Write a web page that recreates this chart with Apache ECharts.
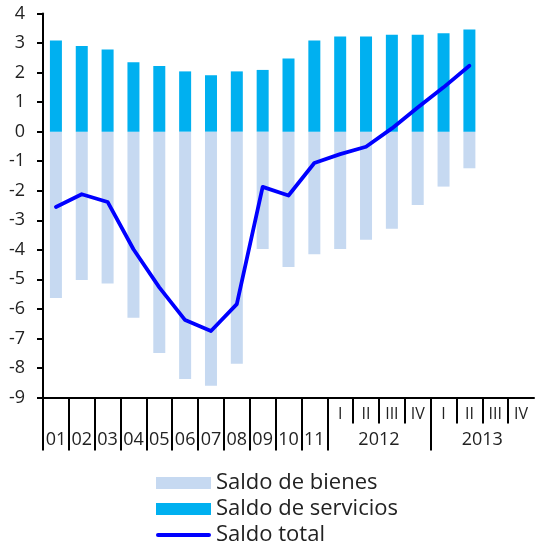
<!DOCTYPE html>
<html>
<head>
<meta charset="utf-8">
<script src="https://cdn.jsdelivr.net/npm/echarts@6/dist/echarts.min.js"></script>
<style>
html,body{margin:0;padding:0;background:#fff;}
#chart{width:535px;height:545px;}
</style>
</head>
<body>
<div id="chart"></div>
<script>
// Categories: years 2001-2011, then quarters 2012 I-IV, 2013 I-IV
var categories = ['01','02','03','04','05','06','07','08','09','10','11',
  '2012-I','2012-II','2012-III','2012-IV','2013-I','2013-II','2013-III','2013-IV'];
var yearLabels = ['01','02','03','04','05','06','07','08','09','10','11'];
var quarterLabels = ['I','II','III','IV','I','II','III','IV'];
var groupLabels = ['2012','2013'];

var bienes = [-5.63,-5.02,-5.14,-6.30,-7.49,-8.37,-8.60,-7.86,-3.97,-4.58,-4.15,
  -3.97,-3.66,-3.29,-2.48,-1.86,-1.24];
var servicios = [3.09,2.90,2.78,2.35,2.22,2.04,1.91,2.04,2.09,2.48,3.09,
  3.22,3.22,3.28,3.28,3.33,3.46];
var total = [-2.55,-2.12,-2.38,-3.98,-5.27,-6.38,-6.75,-5.84,-1.87,-2.16,-1.06,
  -0.76,-0.51,0.11,0.82,1.50,2.23];

var yTicksMin = -9, yTicksMax = 4, yStep = 1;

var FONT = 'Open Sans';
var nCat = categories.length;
var nYears = yearLabels.length;

// positions derived from category counts
var yearLabelPos = yearLabels.map(function(_, i){ return i + 0.5; });
var groupLabelPos = groupLabels.map(function(_, g){ return nYears + g * 4 + 2; });
var longTickPos = [];
for (var i = 0; i <= nYears; i++) longTickPos.push(i);
longTickPos.push(nYears + 4);
var shortTickPos = [];
for (var j = 0; j < quarterLabels.length; j++) {
  var p = nYears + j;
  if (j % 4 !== 0) shortTickPos.push(p);
}
var quarterLabelPos = quarterLabels.map(function(_, k){ return nYears + k + 0.5; });

var chart = echarts.init(document.getElementById('chart'), null, {renderer: 'canvas'});

chart.setOption({
  animation: false,
  backgroundColor: '#ffffff',
  textStyle: {fontFamily: FONT},
  grid: {left: 43, right: 1, top: 13.5, bottom: 147.5, containLabel: false},
  legend: {
    orient: 'vertical',
    left: 156,
    top: 472,
    height: 90,
    width: 370,
    padding: 0,
    itemWidth: 55,
    itemHeight: 12,
    itemGap: 4,
    symbolKeepAspect: true,
    textStyle: {fontFamily: FONT, fontSize: 22, color: '#222', lineHeight: 22},
    data: [
      {name: 'Saldo de bienes', icon: 'rect'},
      {name: 'Saldo de servicios', icon: 'rect'},
      {name: 'Saldo total', icon: 'path://M2,0L53,0A2,2,0,0,1,53,4L2,4A2,2,0,0,1,2,0Z'}
    ]
  },
  xAxis: [
    {
      type: 'category',
      data: categories,
      show: false,
      boundaryGap: true
    },
    {
      type: 'value',
      min: 0, max: nCat,
      position: 'bottom',
      splitLine: {show: false},
      axisLine: {show: true, onZero: false, lineStyle: {color: '#000', width: 2}},
      axisTick: {show: true, customValues: longTickPos, length: 53, lineStyle: {color: '#000', width: 2}},
      axisLabel: {
        show: true,
        customValues: yearLabelPos.concat(groupLabelPos),
        margin: 33,
        fontFamily: FONT, fontSize: 18, color: '#222',
        formatter: function(v){
          if (v < nYears) return yearLabels[Math.floor(v)];
          for (var g = 0; g < groupLabelPos.length; g++) if (Math.abs(v - groupLabelPos[g]) < 0.01) return groupLabels[g];
          return '';
        }
      }
    },
    {
      type: 'value',
      min: 0, max: nCat,
      position: 'bottom',
      splitLine: {show: false},
      axisLine: {show: false, onZero: false},
      axisTick: {show: true, customValues: shortTickPos, length: 26, lineStyle: {color: '#000', width: 2}},
      axisLabel: {
        show: true,
        customValues: quarterLabelPos,
        margin: 9,
        fontFamily: FONT, fontSize: 16, color: '#222',
        formatter: function(v){
          return quarterLabels[Math.floor(v) - nYears] || '';
        }
      }
    }
  ],
  yAxis: {
    type: 'value',
    min: yTicksMin, max: yTicksMax, interval: yStep,
    splitLine: {show: false},
    axisLine: {show: true, onZero: false, lineStyle: {color: '#000', width: 2}},
    axisTick: {show: true, length: 6, lineStyle: {color: '#000', width: 2}},
    axisLabel: {fontFamily: FONT, fontSize: 18, color: '#222', margin: 18}
  },
  series: [
    {
      name: 'Saldo de bienes',
      type: 'bar',
      stack: 's',
      xAxisIndex: 0,
      barWidth: 12,
      itemStyle: {color: '#C6D9F1'},
      data: bienes
    },
    {
      name: 'Saldo de servicios',
      type: 'bar',
      stack: 's',
      xAxisIndex: 0,
      barWidth: 12,
      itemStyle: {color: '#00B0F0'},
      data: servicios
    },
    {
      name: 'Saldo total',
      type: 'line',
      xAxisIndex: 0,
      symbol: 'none',
      lineStyle: {color: '#0000FF', width: 3.8, cap: 'round', join: 'round'},
      itemStyle: {color: '#0000FF'},
      z: 5,
      data: total
    }
  ]
});
</script>
</body>
</html>
